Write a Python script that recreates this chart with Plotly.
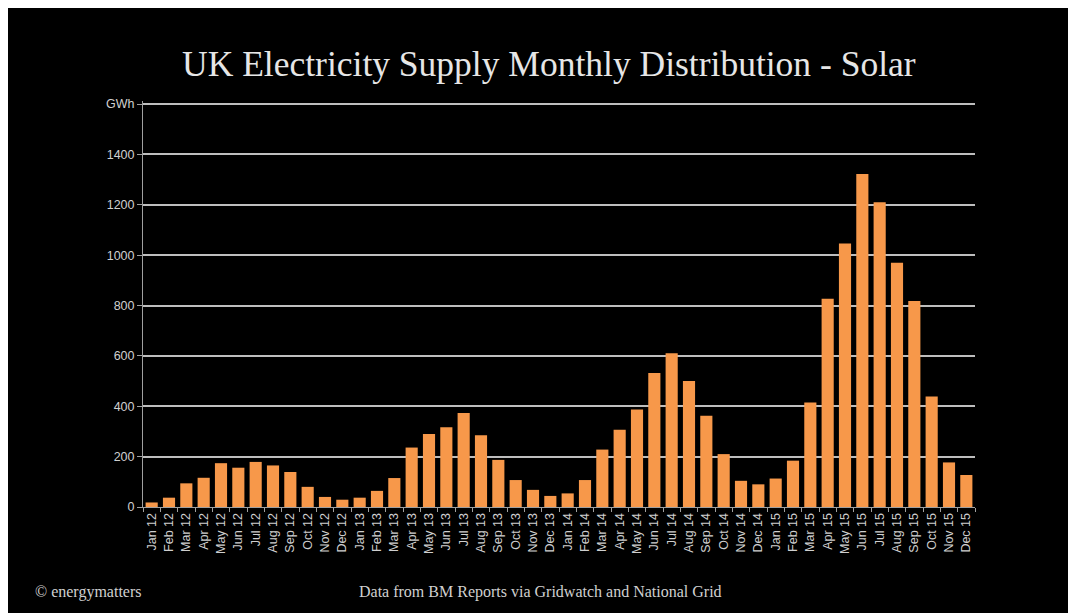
import plotly.graph_objects as go

months = ["Jan", "Feb", "Mar", "Apr", "May", "Jun", "Jul", "Aug", "Sep", "Oct", "Nov", "Dec"]
years = ["12", "13", "14", "15"]
categories = [f"{m} {y}" for y in years for m in months]

solar_gwh = [
    18, 37, 94, 116, 174, 156, 179, 165, 139, 80, 40, 29,
    37, 64, 115, 236, 290, 317, 373, 285, 187, 107, 68, 44,
    54, 107, 228, 307, 387, 532, 610, 500, 362, 210, 104, 90,
    113, 184, 415, 827, 1046, 1322, 1210, 970, 818, 439, 177, 127,
]

y_tickvals = [0, 200, 400, 600, 800, 1000, 1200, 1400, 1600]
y_ticktext = ["0", "200", "400", "600", "800", "1000", "1200", "1400", "GWh"]

title_text = "UK Electricity Supply Monthly Distribution - Solar"
credit_text = "© energymatters"
source_text = "Data from BM Reports via Gridwatch and National Grid"

# page body margin offsets the figure by 8px in the screenshot
OFF = 8
W, H = 1076, 613
Y_TOP = 1612
ml, mt = 143 - OFF, 101 - OFF
plot_right, plot_bottom = 975 - OFF, 507 - OFF
mr, mb = W - plot_right, H - plot_bottom
pw, ph = plot_right - ml, plot_bottom - mt


def px_x(p):
    return (p - OFF - ml) / pw


def px_y(p):
    return (plot_bottom - (p - OFF)) / ph


fig = go.Figure()
fig.add_trace(go.Bar(
    x=categories, y=solar_gwh,
    marker=dict(color="#F7984A", line=dict(width=0)),
    hoverinfo="x+y",
))

fig.update_layout(
    width=W, height=H,
    margin=dict(l=ml, r=mr, t=mt, b=mb),
    paper_bgcolor="black",
    plot_bgcolor="black",
    bargap=0.3,
    showlegend=False,
    font=dict(family="Liberation Sans, Arial, sans-serif", color="#d0d0d0"),
    annotations=[
        dict(text=title_text, xref="paper", yref="paper", x=px_x(549), y=px_y(64),
             xanchor="center", yanchor="middle", showarrow=False,
             font=dict(family="Liberation Serif, serif", size=35.5, color="#e6e6e6")),
        dict(text=credit_text, xref="paper", yref="paper", x=px_x(33), y=px_y(592),
             xanchor="left", yanchor="middle", showarrow=False,
             font=dict(family="Liberation Serif, serif", size=16, color="#d0d0d0")),
        dict(text=source_text, xref="paper", yref="paper", x=px_x(540), y=px_y(592),
             xanchor="center", yanchor="middle", showarrow=False,
             font=dict(family="Liberation Serif, serif", size=16, color="#d0d0d0")),
    ],
)

fig.update_xaxes(
    type="category",
    tickangle=-90,
    tickfont=dict(size=12.5, color="#cfcfcf"),
    showgrid=False,
    showline=True, linecolor="#a0a0a0", linewidth=1,
    ticks="outside", ticklen=4, tickcolor="#a0a0a0",
    tickson="boundaries",
)
fig.update_yaxes(
    range=[0, Y_TOP],
    tickvals=y_tickvals, ticktext=y_ticktext,
    tickfont=dict(size=12.5, color="#d0d0d0"),
    showgrid=True, gridcolor="#bdbdbd", gridwidth=1.5,
    showline=True, linecolor="#a0a0a0", linewidth=1,
    ticks="outside", ticklen=5, tickcolor="#a0a0a0",
    zeroline=False,
)

fig.write_html("out.html")
